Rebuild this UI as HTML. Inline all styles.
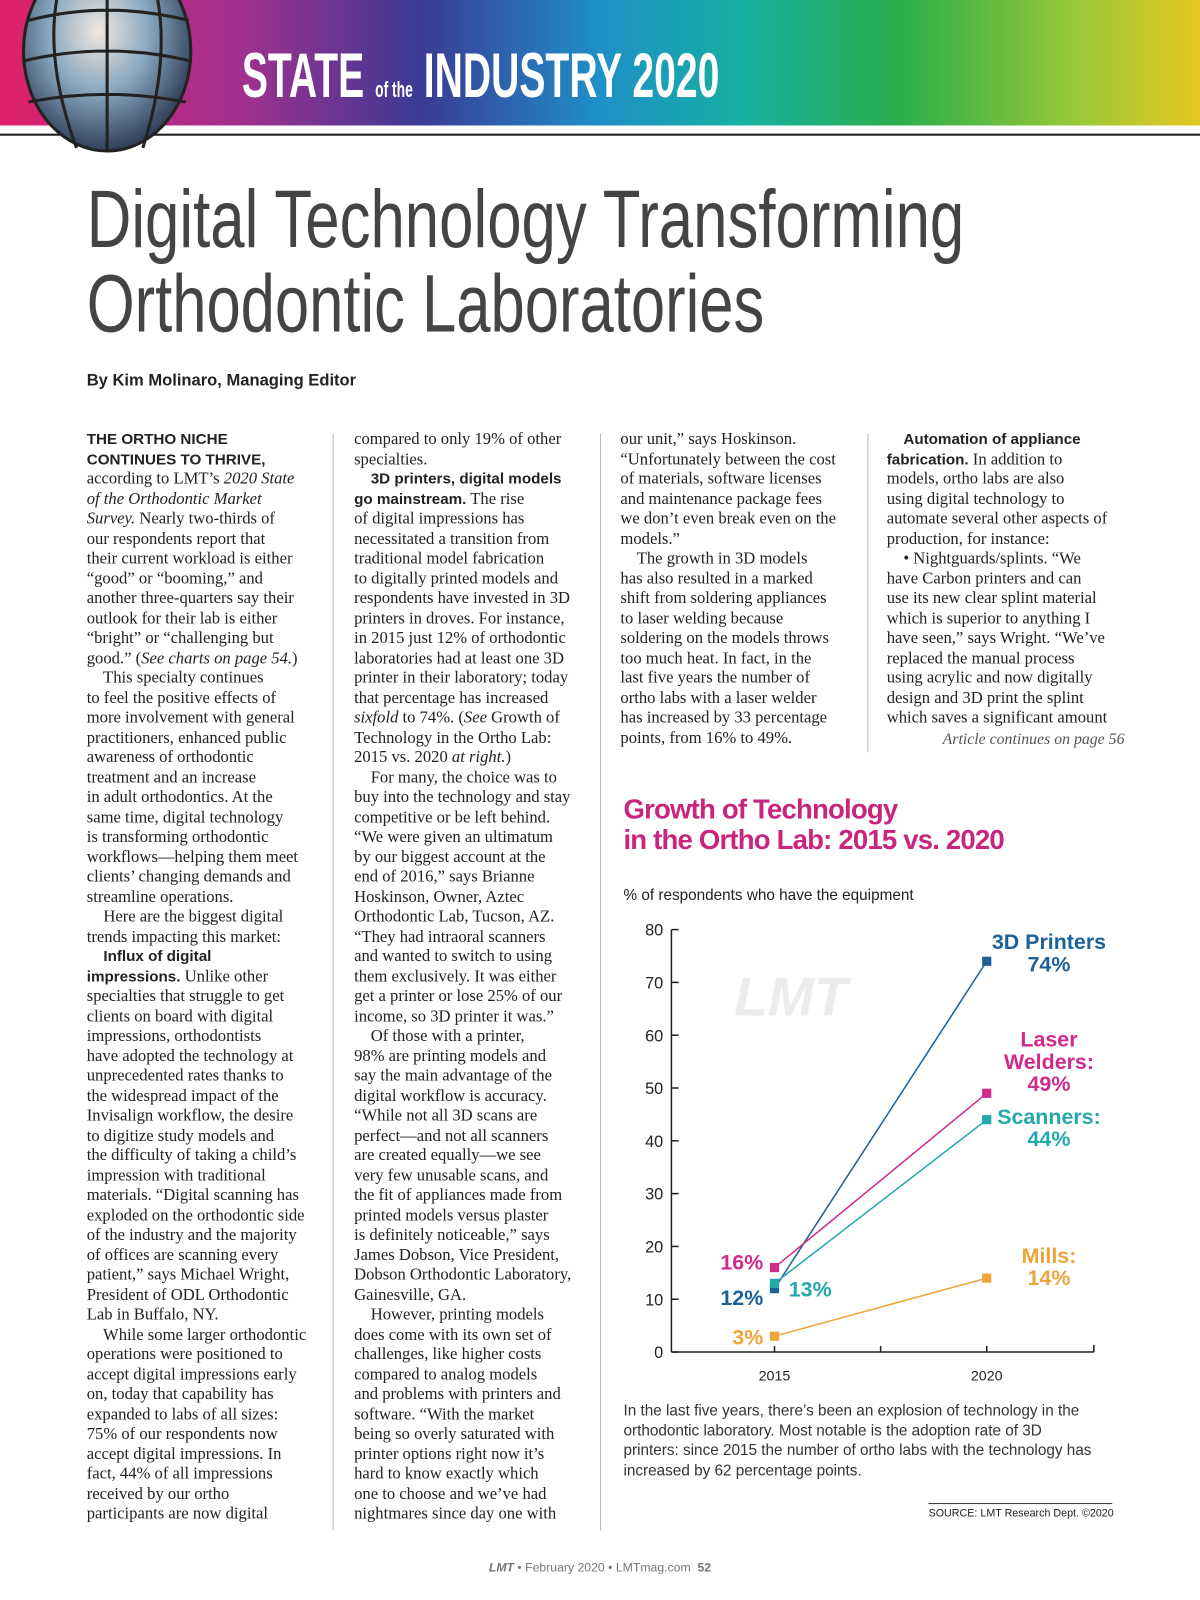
<!DOCTYPE html>
<html><head><meta charset="utf-8">
<style>
html,body{margin:0;padding:0;background:#fff;width:1200px;height:1600px;overflow:hidden}
#page{position:absolute;left:0;top:0;width:1176px;height:1568px;transform:scale(1.0204);transform-origin:0 0;font-family:"Liberation Serif",serif;color:#222}
.abs{position:absolute}
.col{position:absolute;top:420px;font-size:16.3px;line-height:19.5px;white-space:pre;color:#222}
.sh{font-family:"Liberation Sans",sans-serif;font-weight:bold;font-size:14.9px;line-height:1}
.rule{position:absolute;width:1px;background:#bbb}
</style></head><body>
<div id="page">
<svg class="abs" style="left:0;top:0" width="1176" height="150">
<defs><linearGradient id="rb" x1="0" x2="1" y1="0" y2="0">
<stop offset="0" stop-color="#e0206a"/><stop offset="0.2" stop-color="#a2308e"/><stop offset="0.35" stop-color="#3a3a94"/><stop offset="0.5" stop-color="#1e90c8"/><stop offset="0.62" stop-color="#16b0a0"/><stop offset="0.75" stop-color="#2aae4a"/><stop offset="0.9" stop-color="#9cc838"/><stop offset="1" stop-color="#e6c820"/></linearGradient>
<radialGradient id="gl" cx="0.45" cy="0.4" r="0.6"><stop offset="0" stop-color="#f0e8e0"/><stop offset="0.5" stop-color="#8aa8c0"/><stop offset="1" stop-color="#304058"/></radialGradient></defs>
<rect x="0" y="0" width="1176" height="123" fill="url(#rb)"/>
<rect x="0" y="123" width="1176" height="7" fill="#fff"/>
<line x1="0" y1="132" x2="1176" y2="132" stroke="#222" stroke-width="2"/>
<ellipse cx="105" cy="50" rx="82" ry="98" fill="url(#gl)" stroke="#222" stroke-width="3"/>
<path d="M28 20 Q105 0 185 20 M22 60 Q105 40 188 60 M28 100 Q105 85 182 100 M60 -20 Q40 50 75 145 M105 -40 V148 M150 -20 Q170 50 140 145" stroke="#222" stroke-width="3" fill="none"/>
<text x="237" y="95" textLength="468" lengthAdjust="spacingAndGlyphs" font-family="Liberation Sans,sans-serif" font-weight="bold" font-size="62" fill="#fff">STATE <tspan font-size="22">of the</tspan> INDUSTRY 2020</text>
</svg>
<svg class="abs" style="left:0;top:160px" width="1000" height="230">
<text x="85" y="82" textLength="860" lengthAdjust="spacingAndGlyphs" font-family="Liberation Sans,sans-serif" font-size="80" fill="#444">Digital Technology Transforming</text>
<text x="85" y="165" textLength="664" lengthAdjust="spacingAndGlyphs" font-family="Liberation Sans,sans-serif" font-size="80" fill="#444">Orthodontic Laboratories</text>
<text x="85" y="218" textLength="264" lengthAdjust="spacingAndGlyphs" font-family="Liberation Sans,sans-serif" font-weight="bold" font-size="16" fill="#222">By Kim Molinaro, Managing Editor</text>
</svg>
<div class="rule" style="left:326px;top:425px;height:1075px"></div>
<div class="rule" style="left:588px;top:425px;height:1075px"></div>
<div class="rule" style="left:850px;top:425px;height:312px"></div>

<div class="col" style="left:85px"><span class="sh">THE ORTHO NICHE
CONTINUES TO THRIVE,</span>
according to LMT’s <i>2020 State
of the Orthodontic Market
Survey.</i> Nearly two-thirds of
our respondents report that
their current workload is either
“good” or “booming,” and
another three-quarters say their
outlook for their lab is either
“bright” or “challenging but
good.” (<i>See charts on page 54.</i>)
    This specialty continues
to feel the positive effects of
more involvement with general
practitioners, enhanced public
awareness of orthodontic
treatment and an increase
in adult orthodontics. At the
same time, digital technology
is transforming orthodontic
workflows—helping them meet
clients’ changing demands and
streamline operations.
    Here are the biggest digital
trends impacting this market:
    <span class="sh">Influx of digital
impressions.</span> Unlike other
specialties that struggle to get
clients on board with digital
impressions, orthodontists
have adopted the technology at
unprecedented rates thanks to
the widespread impact of the
Invisalign workflow, the desire
to digitize study models and
the difficulty of taking a child’s
impression with traditional
materials. “Digital scanning has
exploded on the orthodontic side
of the industry and the majority
of offices are scanning every
patient,” says Michael Wright,
President of ODL Orthodontic
Lab in Buffalo, NY.
    While some larger orthodontic
operations were positioned to
accept digital impressions early
on, today that capability has
expanded to labs of all sizes:
75% of our respondents now
accept digital impressions. In
fact, 44% of all impressions
received by our ortho
participants are now digital</div>

<div class="col" style="left:347px">compared to only 19% of other
specialties.
    <span class="sh">3D printers, digital models
go mainstream.</span> The rise
of digital impressions has
necessitated a transition from
traditional model fabrication
to digitally printed models and
respondents have invested in 3D
printers in droves. For instance,
in 2015 just 12% of orthodontic
laboratories had at least one 3D
printer in their laboratory; today
that percentage has increased
<i>sixfold</i> to 74%. (<i>See</i> Growth of
Technology in the Ortho Lab:
2015 vs. 2020 <i>at right.</i>)
    For many, the choice was to
buy into the technology and stay
competitive or be left behind.
“We were given an ultimatum
by our biggest account at the
end of 2016,” says Brianne
Hoskinson, Owner, Aztec
Orthodontic Lab, Tucson, AZ.
“They had intraoral scanners
and wanted to switch to using
them exclusively. It was either
get a printer or lose 25% of our
income, so 3D printer it was.”
    Of those with a printer,
98% are printing models and
say the main advantage of the
digital workflow is accuracy.
“While not all 3D scans are
perfect—and not all scanners
are created equally—we see
very few unusable scans, and
the fit of appliances made from
printed models versus plaster
is definitely noticeable,” says
James Dobson, Vice President,
Dobson Orthodontic Laboratory,
Gainesville, GA.
    However, printing models
does come with its own set of
challenges, like higher costs
compared to analog models
and problems with printers and
software. “With the market
being so overly saturated with
printer options right now it’s
hard to know exactly which
one to choose and we’ve had
nightmares since day one with</div>

<div class="col" style="left:608px">our unit,” says Hoskinson.
“Unfortunately between the cost
of materials, software licenses
and maintenance package fees
we don’t even break even on the
models.”
    The growth in 3D models
has also resulted in a marked
shift from soldering appliances
to laser welding because
soldering on the models throws
too much heat. In fact, in the
last five years the number of
ortho labs with a laser welder
has increased by 33 percentage
points, from 16% to 49%.</div>

<div class="col" style="left:869px">    <span class="sh">Automation of appliance
fabrication.</span> In addition to
models, ortho labs are also
using digital technology to
automate several other aspects of
production, for instance:
    • Nightguards/splints. “We
have Carbon printers and can
use its new clear splint material
which is superior to anything I
have seen,” says Wright. “We’ve
replaced the manual process
using acrylic and now digitally
design and 3D print the splint
which saves a significant amount
</div>
<div class="abs" style="left:869px;width:233px;top:716px;text-align:right;font-size:15.5px;font-style:italic;color:#555;white-space:nowrap">Article continues on page 56</div>

<div class="abs" style="left:611px;top:778px;font-family:'Liberation Sans',sans-serif;font-weight:bold;font-size:27px;line-height:30px;color:#c8267e;letter-spacing:-0.8px">Growth of Technology<br>in the Ortho Lab: 2015 vs. 2020</div>
<div class="abs" style="left:611px;top:869px;font-family:'Liberation Sans',sans-serif;font-size:15px;color:#222">% of respondents who have the equipment</div>

<svg id="chart" class="abs" style="left:0;top:0" width="1176" height="1400"></svg>

<div class="abs" style="left:611px;top:1373px;font-family:'Liberation Sans',sans-serif;font-size:15px;line-height:19.5px;color:#333;white-space:pre">In the last five years, there’s been an explosion of technology in the
orthodontic laboratory. Most notable is the adoption rate of 3D
printers: since 2015 the number of ortho labs with the technology has
increased by 62 percentage points.</div>
<div class="abs" style="left:910px;top:1473px;width:180px;border-top:1px solid #333;text-align:right;padding-top:3px;font-family:'Liberation Sans',sans-serif;font-size:10.5px;color:#222;white-space:nowrap">SOURCE: LMT Research Dept. ©2020</div>
<div class="abs" style="left:0;width:1176px;top:1529px;text-align:center;font-family:'Liberation Sans',sans-serif;font-size:12px;color:#777"><b><i>LMT</i></b> • February 2020 • LMTmag.com &nbsp;<b>52</b></div>
</div>
<script>
const years = ["2015","2020"];
const printers = [12, 74];
const welders = [16, 49];
const scanners = [13, 44];
const mills = [3, 14];
const yTicks = [0,10,20,30,40,50,60,70,80];
const seriesNames = ["3D Printers","Laser Welders","Scanners","Mills"];

const NS="http://www.w3.org/2000/svg";
const svg=document.getElementById('chart');
const X0=658, XE=1072, Y0=1325, Y80=911;
const xPos=[759,967];
function xs(i){return xPos[i];}
function ys(v){return Y0-(v/80)*(Y0-Y80);}
function mk(t,a,p){const e=document.createElementNS(NS,t);for(const k in a)e.setAttribute(k,a[k]);(p||svg).appendChild(e);return e;}
const F="Liberation Sans, sans-serif";
const wm=mk('text',{x:775,y:995,'text-anchor':'middle','font-family':F,'font-weight':'bold','font-style':'italic','font-size':54,fill:'#ececec'});
wm.textContent='LMT';


const ax=mk('g',{stroke:'#222','stroke-width':1.5});


mk('line',{x1:X0,y1:Y80,x2:X0,y2:Y0},ax);
mk('line',{x1:X0,y1:Y0,x2:XE,y2:Y0},ax);
mk('line',{x1:XE,y1:Y0,x2:XE,y2:Y0-7},ax);
mk('line',{x1:(xs(0)+xs(1))/2,y1:Y0,x2:(xs(0)+xs(1))/2,y2:Y0-6},ax);
years.forEach((y,i)=>{
  mk('line',{x1:xs(i),y1:Y0,x2:xs(i),y2:Y0-6},ax);
  const t=mk('text',{x:xs(i),y:Y0+28,'text-anchor':'middle','font-family':F,'font-size':14,fill:'#222'});
  t.textContent=y;
  
  
});
yTicks.forEach(v=>{
  mk('line',{x1:X0,y1:ys(v),x2:X0+7,y2:ys(v)},ax);
  const t=mk('text',{x:X0-8,y:ys(v)+6,'text-anchor':'end','font-family':F,'font-size':16,fill:'#222'});
  t.textContent=v;
  
  
});
const series=[
 {d:printers,c:'#1c6199',name:'printers'},
 {d:welders,c:'#d12a8a',name:'welders'},
 {d:scanners,c:'#22a8ad',name:'scanners'},
 {d:mills,c:'#eea43a',name:'mills'}];
series.forEach(s=>{
  const l=mk('line',{x1:xs(0),y1:ys(s.d[0]),x2:xs(1),y2:ys(s.d[1]),stroke:s.c,'stroke-width':1.5});
  
  
  s.d.forEach((v,i)=>{
    const r=mk('rect',{x:xs(i)-4.5,y:ys(v)-4.5,width:9,height:9,fill:s.c});
    
    
  });
});
function lab(txt,x,y,c,anchor,name){
  const t=mk('text',{x:x,y:y,'text-anchor':anchor,'font-family':F,'font-weight':'bold','font-size':21,fill:c});
  t.textContent=txt;
  
  
}
lab(welders[0]+'%',xs(0)-11,ys(welders[0])+2,'#d12a8a','end','label-welders-2015');
lab(printers[0]+'%',xs(0)-11,ys(printers[0])+16,'#1c6199','end','label-printers-2015');
lab(scanners[0]+'%',xs(0)+14,ys(scanners[0])+13,'#22a8ad','start','label-scanners-2015');
lab(mills[0]+'%',xs(0)-11,ys(mills[0])+8,'#eea43a','end','label-mills-2015');
const RX=1028;
lab('3D Printers',RX,ys(printers[1])-12,'#1c6199','middle','label-printers-name');
lab(printers[1]+'%',RX,ys(printers[1])+10,'#1c6199','middle','label-printers-2020');
lab('Laser',RX,ys(welders[1])-46,'#d12a8a','middle','label-welders-name');
lab('Welders:',RX,ys(welders[1])-24,'#d12a8a','middle','label-welders-name2');
lab(welders[1]+'%',RX,ys(welders[1])-2,'#d12a8a','middle','label-welders-2020');
lab('Scanners:',RX,ys(scanners[1])+4,'#22a8ad','middle','label-scanners-name');
lab(scanners[1]+'%',RX,ys(scanners[1])+26,'#22a8ad','middle','label-scanners-2020');
lab('Mills:',RX,ys(mills[1])-15,'#eea43a','middle','label-mills-name');
lab(mills[1]+'%',RX,ys(mills[1])+7,'#eea43a','middle','label-mills-2020');
</script>
</body></html>
